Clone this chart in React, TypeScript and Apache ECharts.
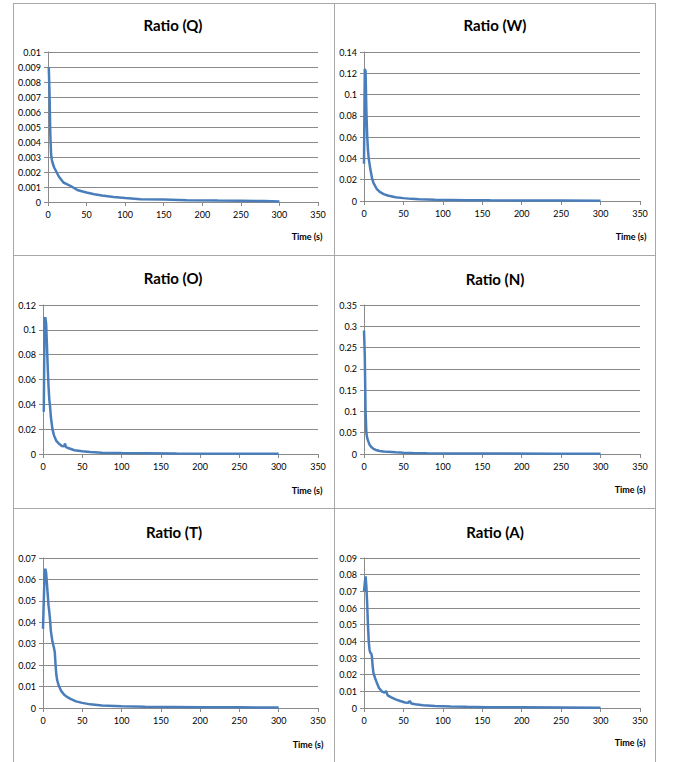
import React, { useEffect, useRef } from "react";
import * as echarts from "echarts";

// ---------- data ----------
const panelNames = ["Q", "W", "O", "N", "T", "A"];
const xAxisTitle = "Time (s)";
const xMax = 350;
const xStep = 50;
const yMaxes = [0.01, 0.14, 0.12, 0.35, 0.07, 0.09];
const ySteps = [0.001, 0.02, 0.02, 0.05, 0.01, 0.01];

const qTime = [1, 2, 3, 4, 5, 6, 8, 10, 14, 20, 25, 30, 38, 45, 50, 60, 70, 85, 100, 120, 150, 180, 220, 250, 280, 300];
const qRatio = [0.009, 0.0072, 0.0045, 0.0032, 0.0028, 0.0026, 0.0023, 0.0021, 0.0017, 0.0013, 0.00118, 0.00105, 0.0008, 0.0007, 0.00063, 0.00052, 0.00044, 0.00033, 0.00026, 0.00019, 0.00016, 0.00012, 0.0001, 0.00009, 0.00006, 0.00004];

const wTime = [0, 1, 2, 3, 4, 5, 6, 8, 10, 12, 16, 20, 25, 30, 40, 50, 60, 70, 90, 110, 130, 160, 200, 250, 300];
const wRatio = [0.035, 0.124, 0.122, 0.085, 0.062, 0.048, 0.04, 0.03, 0.022, 0.017, 0.0115, 0.0085, 0.0065, 0.0052, 0.0035, 0.0027, 0.002, 0.0016, 0.0012, 0.001, 0.0008, 0.0006, 0.0005, 0.0004, 0.0003];

const oTime = [1, 2, 3, 4, 5, 6, 7, 8, 9, 10, 12, 14, 17, 20, 24, 27, 28, 29, 32, 40, 50, 60, 75, 100, 130, 170, 220, 300];
const oRatio = [0.034, 0.109, 0.11, 0.105, 0.088, 0.07, 0.055, 0.044, 0.038, 0.03, 0.02, 0.015, 0.0105, 0.0085, 0.0065, 0.0062, 0.0085, 0.0058, 0.0048, 0.003, 0.0022, 0.0016, 0.0011, 0.0008, 0.0006, 0.0004, 0.0003, 0.0002];

const nTime = [0, 1, 2, 3, 4, 5, 7, 9, 12, 15, 20, 25, 30, 40, 50, 62, 80, 120, 180, 240, 300];
const nRatio = [0.29, 0.23, 0.1, 0.05, 0.038, 0.032, 0.022, 0.017, 0.012, 0.0095, 0.007, 0.0058, 0.005, 0.004, 0.0032, 0.0026, 0.002, 0.0014, 0.001, 0.0008, 0.0006];

const tTime = [0, 1, 2, 3, 4, 5, 6, 7, 8, 9, 10, 12, 14, 15, 16, 17, 18, 20, 23, 27, 30, 35, 42, 50, 60, 75, 100, 130, 165, 200, 250, 300];
const tRatio = [0.037, 0.05, 0.062, 0.065, 0.063, 0.058, 0.053, 0.048, 0.045, 0.041, 0.036, 0.031, 0.028, 0.026, 0.02, 0.0155, 0.013, 0.0105, 0.008, 0.0062, 0.0053, 0.0043, 0.0031, 0.0024, 0.0017, 0.0012, 0.0008, 0.0006, 0.0005, 0.0004, 0.0003, 0.0002];

const aTime = [0, 1, 2, 3, 4, 5, 6, 7, 8, 9, 10, 11, 12, 14, 16, 19, 23, 26, 28, 30, 34, 40, 46, 52, 56, 58, 60, 65, 75, 90, 110, 130, 155, 200, 250, 300];
const aRatio = [0.07, 0.075, 0.079, 0.073, 0.063, 0.05, 0.04, 0.035, 0.033, 0.033, 0.031, 0.025, 0.021, 0.018, 0.0155, 0.012, 0.0098, 0.0092, 0.0102, 0.0076, 0.0065, 0.0052, 0.0042, 0.0033, 0.0031, 0.0042, 0.0027, 0.0022, 0.0017, 0.0012, 0.0009, 0.0007, 0.0005, 0.0004, 0.0003, 0.0002];

const seriesTimes = [qTime, wTime, oTime, nTime, tTime, aTime];
const seriesRatios = [qRatio, wRatio, oRatio, nRatio, tRatio, aRatio];

// ---------- layout ----------
const W = 675;
const H = 762;
const grids = [
  { left: 48, top: 52, width: 270, height: 150 },
  { left: 364, top: 52, width: 276, height: 149 },
  { left: 43, top: 305, width: 275, height: 149 },
  { left: 364, top: 305, width: 276, height: 149 },
  { left: 43, top: 558, width: 275, height: 150 },
  { left: 364, top: 558, width: 276, height: 150 },
];
const titlePos = [
  [173, 26], [495, 26], [173, 279], [495, 280], [174, 533], [495, 533],
];
const timePos = [
  [307, 236], [631, 236], [307, 490], [630, 489], [308, 744], [630, 742],
];

const FONT = "Lato, 'Open Sans', sans-serif";
const GRID_COLOR = "#8a8a8a";
const BORDER_COLOR = "#a8a8a8";
const LINE_COLOR = "#4a7ebb";

export default function App() {
  const ref = useRef<HTMLDivElement>(null);

  useEffect(() => {
    if (!ref.current) return;
    const chart = echarts.init(ref.current, undefined, { renderer: "svg", width: W, height: H });

    const graphics: any[] = [];
    // panel borders
    const vx = [13.5, 334.5, 655.5];
    vx.forEach((x) =>
      graphics.push({ type: "line", shape: { x1: x, y1: 3, x2: x, y2: H }, style: { stroke: BORDER_COLOR, lineWidth: 1 }, silent: true })
    );
    const hy = [3.5, 255.5, 508.5];
    hy.forEach((y) =>
      graphics.push({ type: "line", shape: { x1: 13, y1: y, x2: 656, y2: y }, style: { stroke: BORDER_COLOR, lineWidth: 1 }, silent: true })
    );
    timePos.forEach(([x, y]) =>
      graphics.push({
        type: "text",
        x,
        y,
        style: {
          text: xAxisTitle,
          font: `bold 9px ${FONT}`,
          fill: "#000",
          textAlign: "center",
          textVerticalAlign: "middle",
        },
      })
    );

    const option: any = {
      animation: false,
      backgroundColor: "#fff",
      title: panelNames.map((n, i) => ({
        text: `Ratio (${n})`,
        left: titlePos[i][0],
        top: titlePos[i][1] - 9,
        textAlign: "center",
        padding: 0,
        textStyle: { fontFamily: FONT, fontWeight: "bold", fontSize: 15, color: "#000" },
      })),
      grid: grids.map((g) => ({ ...g, containLabel: false })),
      xAxis: grids.map((_, i) => ({
        type: "value",
        gridIndex: i,
        min: 0,
        max: xMax,
        interval: xStep,
        axisLine: { show: true, lineStyle: { color: GRID_COLOR, width: 1 } },
        axisTick: { show: true, length: 4, lineStyle: { color: GRID_COLOR } },
        splitLine: { show: false },
        axisLabel: { margin: 8, fontFamily: FONT, fontSize: 9, color: "#000" },
      })),
      yAxis: grids.map((_, i) => ({
        type: "value",
        gridIndex: i,
        min: 0,
        max: yMaxes[i],
        interval: ySteps[i],
        axisLine: { show: true, lineStyle: { color: GRID_COLOR, width: 1 } },
        axisTick: { show: true, length: 4, lineStyle: { color: GRID_COLOR } },
        splitLine: { show: true, lineStyle: { color: GRID_COLOR, width: 1 } },
        axisLabel: { margin: 7, fontFamily: FONT, fontSize: 9, color: "#000" },
      })),
      series: panelNames.map((n, i) => ({
        name: `Ratio (${n})`,
        type: "line",
        xAxisIndex: i,
        yAxisIndex: i,
        showSymbol: false,
        symbol: "none",
        lineStyle: { color: LINE_COLOR, width: 2.5 },
        itemStyle: { color: LINE_COLOR },
        data: seriesTimes[i].map((t, k) => [t, seriesRatios[i][k]]),
      })),
      graphic: graphics,
    };
    chart.setOption(option);
    return () => chart.dispose();
  }, []);

  return (
    <div
      ref={ref}
      style={{ position: "absolute", left: 0, top: 0, width: W, height: H, background: "#fff" }}
    />
  );
}
